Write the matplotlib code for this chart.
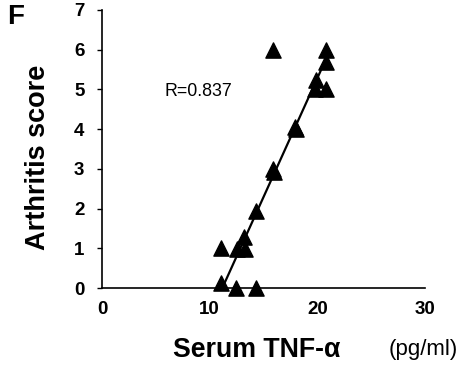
import matplotlib
matplotlib.use('Agg')
import matplotlib.pyplot as plt

plt.rcParams['font.family'] = ['Liberation Sans', 'DejaVu Sans']

# serum TNF-alpha (pg/ml) vs arthritis score
tnf = [15.85, 20.8, 20.85, 19.9, 19.8, 20.8, 17.9, 18.0, 15.9, 15.95,
       14.3, 13.2, 12.5, 13.3, 11.1, 11.1, 12.45, 14.3]
score = [6.0, 6.0, 5.7, 5.25, 5.0, 5.0, 4.05, 4.0, 3.0, 2.93,
         1.94, 1.3, 0.98, 0.98, 1.0, 0.14, 0.0, 0.0]

# regression line
fit_slope = 0.598
fit_intercept = -6.68
fit_range = [11.25, 21.0]

x_ticks = [0, 10, 20, 30]
y_ticks = [0, 1, 2, 3, 4, 5, 6, 7]

fig = plt.figure(figsize=(4.7, 3.7), dpi=100)
ax = fig.add_axes([0.217, 0.221, 0.687, 0.752])

fit_y = [fit_slope * v + fit_intercept for v in fit_range]
ax.plot(fit_range, fit_y, color='black', linewidth=1.6, zorder=2)
ax.scatter(tnf, score, marker='^', s=120, color='black', zorder=3, clip_on=False)

ax.set_xlim(0, 30)
ax.set_ylim(0, 7)
ax.set_xticks(x_ticks)
ax.set_yticks(y_ticks)
ax.tick_params(axis='x', length=0, pad=9, labelsize=13.5)
ax.tick_params(axis='y', length=3.6, width=1, direction='out', pad=9, labelsize=13.5)
for lab in ax.get_xticklabels() + ax.get_yticklabels():
    lab.set_fontweight('bold')

ax.spines['top'].set_visible(False)
ax.spines['right'].set_visible(False)
ax.spines['left'].set_linewidth(1.2)
ax.spines['bottom'].set_linewidth(1.2)

fig.text(0.081, 0.575, 'Arthritis score', fontsize=19.5, fontweight='bold',
         rotation=90, ha='center', va='center')
fig.text(0.547, 0.053, 'Serum TNF-α', fontsize=19.3, fontweight='bold',
         ha='center', va='center')
fig.text(0.975, 0.055, '(pg/ml)', fontsize=16, ha='right', va='center')
fig.text(0.015, 0.935, 'F', fontsize=20, fontweight='bold')
ax.text(5.85, 4.95, 'R=0.837', fontsize=12.8, va='center')

fig.savefig('out.png', dpi=100)
